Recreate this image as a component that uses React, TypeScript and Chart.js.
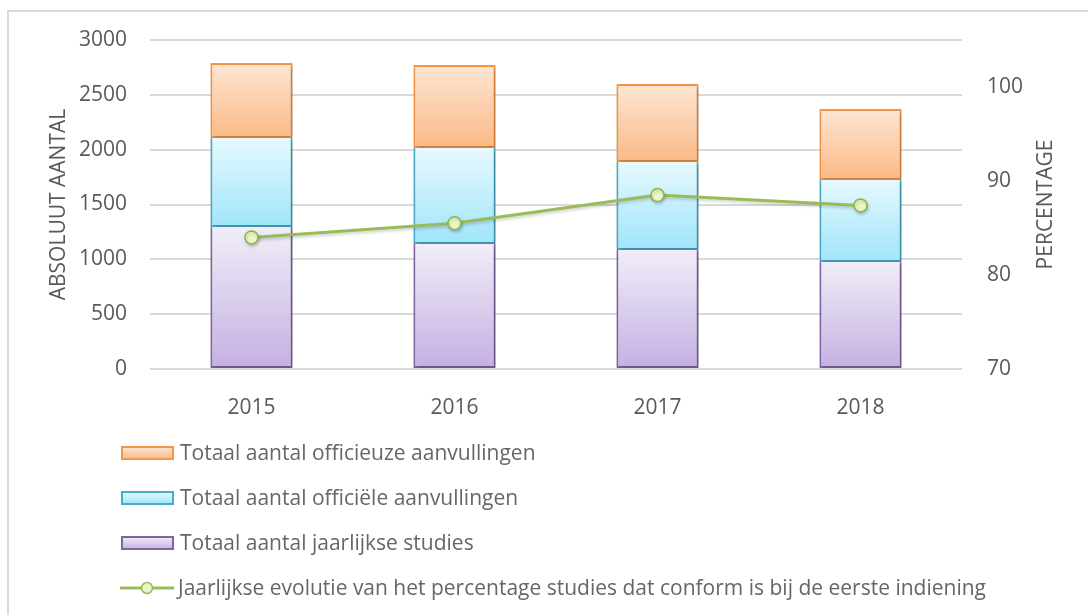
import React, { useEffect, useRef } from "react";
import { Chart, registerables } from "chart.js";

Chart.register(...registerables);

// ---------- data ----------
const years = ["2015", "2016", "2017", "2018"];
const jaarlijkseStudies = [1295, 1140, 1085, 976];
const officieleAanvullingen = [811, 875, 803, 747];
const officieuzeAanvullingen = [684, 757, 711, 648];
const percentageConform = [84.0, 85.5, 88.5, 87.4];

const leftAxisTitle = "ABSOLUUT AANTAL";
const rightAxisTitle = "PERCENTAGE";

const legendLabels = [
  "Totaal aantal officieuze aanvullingen",
  "Totaal aantal officiële aanvullingen",
  "Totaal aantal jaarlijkse studies",
  "Jaarlijkse evolutie van het percentage studies dat conform is bij de eerste indiening",
];

// ---------- styles ----------
const FONT = "'Open Sans', 'Noto Sans', sans-serif";
const TEXT = "#595959";
const LEGEND_TEXT = "#666666";
const GRID = "#d9d9d9";

const PURPLE = { top: "#f1edf8", bottom: "#c4b0e2", border: "#8064a2" };
const BLUE = { top: "#e6f9fe", bottom: "#9fe5fa", border: "#4bacc6" };
const ORANGE = { top: "#fee6d3", bottom: "#fbb985", border: "#f79646" };
const GREEN = { line: "#9bbb59", point: "#e9f7c4" };

function segGradient(col: { top: string; bottom: string }, lower: number[][]) {
  return (ctx: any) => {
    const chart = ctx.chart;
    const area = chart.chartArea;
    if (!area || ctx.type !== "data") return col.bottom;
    const y = chart.scales.y;
    const i = ctx.dataIndex;
    let base = 0;
    lower.forEach((s) => (base += s[i]));
    const v = base + (ctx.raw as number);
    const yTop = y.getPixelForValue(v);
    const yBot = y.getPixelForValue(base);
    if (!isFinite(yTop) || !isFinite(yBot) || yTop === yBot) return col.bottom;
    const g = chart.ctx.createLinearGradient(0, yTop, 0, yBot);
    g.addColorStop(0, col.top);
    g.addColorStop(1, col.bottom);
    return g;
  };
}

const framePlugin = {
  id: "frame",
  beforeDraw(chart: any) {
    const c = chart.ctx;
    c.save();
    c.fillStyle = "#ffffff";
    c.fillRect(0, 0, chart.width, chart.height);
    c.strokeStyle = "#d9d9d9";
    c.lineWidth = 2;
    c.beginPath();
    c.moveTo(8, chart.height + 2);
    c.lineTo(8, 11);
    c.lineTo(chart.width + 2, 11);
    c.stroke();
    c.restore();
  },
};

const shadowPlugin = {
  id: "shadow",
  beforeDatasetDraw(chart: any, args: any) {
    const c = chart.ctx;
    c.save();
    if (args.meta.type === "bar") {
      c.shadowColor = "rgba(0,0,0,0.22)";
      c.shadowBlur = 4;
      c.shadowOffsetX = 2;
      c.shadowOffsetY = 2;
    } else {
      c.shadowColor = "rgba(0,0,0,0.18)";
      c.shadowBlur = 3;
      c.shadowOffsetX = 1;
      c.shadowOffsetY = 2;
    }
  },
  afterDatasetDraw(chart: any) {
    chart.ctx.restore();
  },
};

const rightTitlePlugin = {
  id: "rightTitle",
  afterDraw(chart: any) {
    const c = chart.ctx;
    const area = chart.chartArea;
    c.save();
    c.font = `21px ${FONT}`;
    c.fillStyle = TEXT;
    c.textAlign = "center";
    c.textBaseline = "middle";
    c.translate(1046, (area.top + area.bottom) / 2);
    c.rotate(-Math.PI / 2);
    c.fillText(rightAxisTitle, 0, 0);
    c.restore();
  },
};

const legendPlugin = {
  id: "customLegend",
  afterDraw(chart: any) {
    const c = chart.ctx;
    const rows = [453, 498, 543, 588];
    const boxCols = [ORANGE, BLUE, PURPLE];
    c.save();
    c.font = `21px ${FONT}`;
    c.textBaseline = "middle";
    c.textAlign = "left";
    boxCols.forEach((col, i) => {
      const y = rows[i];
      const x0 = 122, w = 51, h = 12;
      const g = c.createLinearGradient(0, y - h / 2, 0, y + h / 2);
      g.addColorStop(0, col.top);
      g.addColorStop(1, col.bottom);
      c.fillStyle = g;
      c.fillRect(x0, y - h / 2, w, h);
      c.strokeStyle = col.border;
      c.lineWidth = 2;
      c.strokeRect(x0, y - h / 2, w, h);
      c.fillStyle = LEGEND_TEXT;
      c.fillText(legendLabels[i], 180, y + 1);
    });
    // line legend
    const y = rows[3];
    c.strokeStyle = GREEN.line;
    c.lineWidth = 3;
    c.beginPath();
    c.moveTo(120, y);
    c.lineTo(174, y);
    c.stroke();
    c.beginPath();
    c.arc(147, y, 5.5, 0, Math.PI * 2);
    c.fillStyle = GREEN.point;
    c.fill();
    c.lineWidth = 1.5;
    c.strokeStyle = GREEN.line;
    c.stroke();
    c.fillStyle = LEGEND_TEXT;
    c.fillText(legendLabels[3], 178, y + 1);
    c.restore();
  },
};

export default function App() {
  const ref = useRef<HTMLCanvasElement | null>(null);

  useEffect(() => {
    document.body.style.margin = "0";
    if (!ref.current) return;
    const chart = new Chart(ref.current, {
      type: "bar",
      data: {
        labels: years,
        datasets: [
          {
            type: "line",
            label: legendLabels[3],
            data: percentageConform,
            yAxisID: "y1",
            order: 0,
            borderColor: GREEN.line,
            borderWidth: 3,
            pointRadius: 6.5,
            pointBorderWidth: 1.5,
            pointBackgroundColor: GREEN.point,
            pointBorderColor: "#8fb04e",
            tension: 0,
          } as any,
          {
            label: legendLabels[2],
            data: jaarlijkseStudies,
            yAxisID: "y",
            order: 1,
            backgroundColor: segGradient(PURPLE, []),
            borderColor: PURPLE.border,
            borderWidth: 2,
            borderSkipped: "top",
          },
          {
            label: legendLabels[1],
            data: officieleAanvullingen,
            yAxisID: "y",
            order: 1,
            backgroundColor: segGradient(BLUE, [jaarlijkseStudies]),
            borderColor: BLUE.border,
            borderWidth: 2,
            borderSkipped: "top",
          },
          {
            label: legendLabels[0],
            data: officieuzeAanvullingen,
            yAxisID: "y",
            order: 1,
            backgroundColor: segGradient(ORANGE, [jaarlijkseStudies, officieleAanvullingen]),
            borderColor: ORANGE.border,
            borderWidth: 2,
            borderSkipped: false,
          },
        ],
      },
      options: {
        responsive: false,
        animation: false,
        devicePixelRatio: 1,
        layout: { padding: { top: 40, left: 0, right: 0, bottom: 0 } },
        datasets: {
          bar: { barPercentage: 0.405, categoryPercentage: 1 },
        },
        plugins: {
          legend: { display: false },
          tooltip: { enabled: false },
        },
        scales: {
          x: {
            stacked: true,
            grid: { display: false, drawTicks: false },
            border: { display: false },
            ticks: {
              color: TEXT,
              font: { family: FONT, size: 21 },
              padding: 26,
            },
            afterFit: (s: any) => {
              s.height = 246;
            },
          },
          y: {
            position: "left",
            stacked: true,
            min: 0,
            max: 3000,
            grid: { color: GRID, lineWidth: 2, drawTicks: false },
            border: { display: false },
            ticks: {
              stepSize: 500,
              color: TEXT,
              font: { family: FONT, size: 21 },
              padding: 23,
              callback: (v: any) => String(v),
            },
            title: {
              display: true,
              text: leftAxisTitle,
              color: TEXT,
              font: { family: FONT, size: 21 },
              padding: { top: 46, bottom: 0 },
            },
            afterFit: (s: any) => {
              s.width = 150;
            },
          },
          y1: {
            position: "right",
            min: 70,
            max: 105,
            grid: { display: false, drawTicks: false },
            border: { display: false },
            ticks: {
              stepSize: 10,
              includeBounds: false,
              color: TEXT,
              font: { family: FONT, size: 21 },
              padding: 25,
              callback: (v: any) => (Number(v) % 10 === 0 ? String(v) : ""),
            },
            title: { display: false },
            afterFit: (s: any) => {
              s.width = 126;
            },
          },
        },
      },
      plugins: [framePlugin, shadowPlugin, rightTitlePlugin, legendPlugin],
    });
    return () => chart.destroy();
  }, []);

  return (
    <div style={{ width: 1088, height: 615, position: "relative" }}>
      <canvas ref={ref} width={1088} height={615} style={{ display: "block", width: 1088, height: 615 }} />
    </div>
  );
}
